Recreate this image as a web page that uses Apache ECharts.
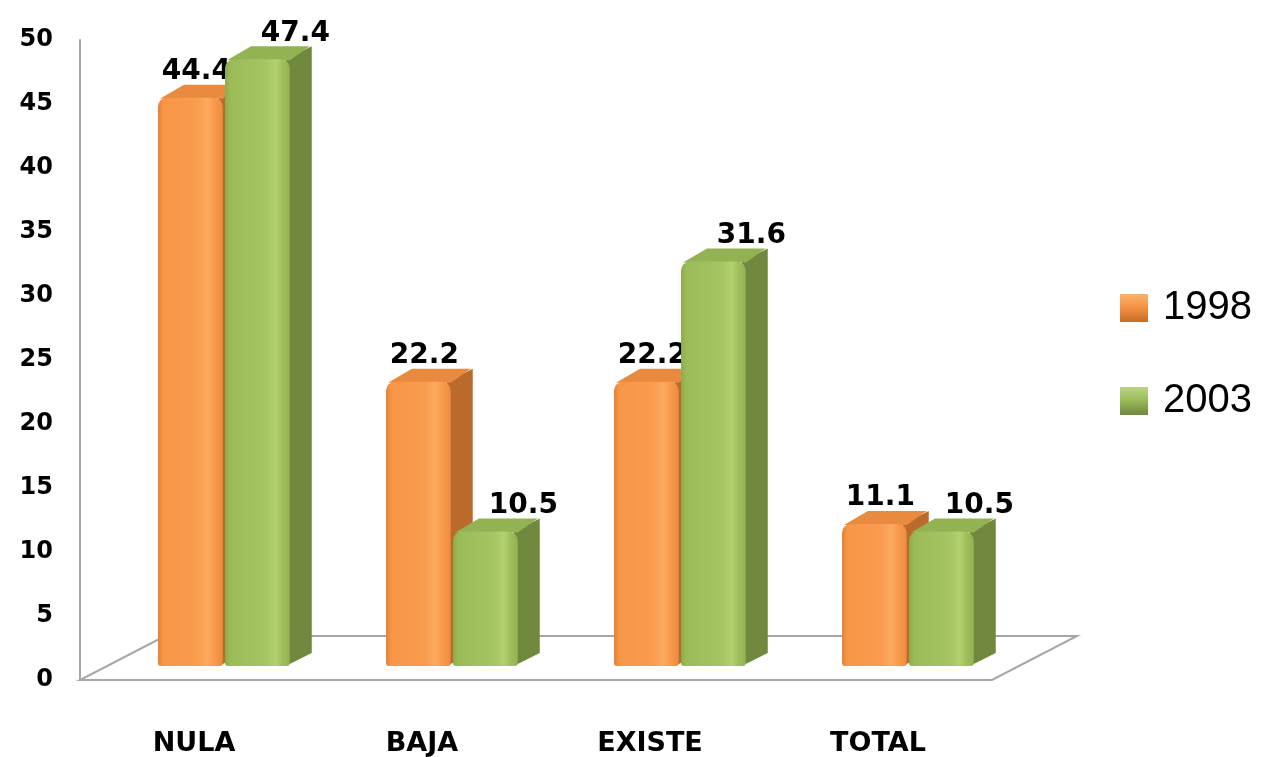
<!DOCTYPE html>
<html>
<head>
<meta charset="utf-8">
<script src="https://cdn.jsdelivr.net/npm/echarts@6/dist/echarts.min.js"></script>
<style>html,body{margin:0;padding:0;background:#fff;}#c{width:1272px;height:757px;}</style>
</head>
<body>
<div id="c"></div>
<script>
const categories = ['NULA', 'BAJA', 'EXISTE', 'TOTAL'];
const seriesNames = ['1998', '2003'];
const values1998 = [44.4, 22.2, 22.2, 11.1];
const values2003 = [47.4, 10.5, 31.6, 10.5];
const yMin = 0, yMax = 50, yStep = 5;

const chart = echarts.init(document.getElementById('c'), null, {renderer: 'canvas'});

const palettes = [
  { // orange
    front: new echarts.graphic.LinearGradient(0, 0, 1, 0, [
      {offset: 0, color: '#E3813A'}, {offset: 0.08, color: '#F79646'},
      {offset: 0.62, color: '#F99C4F'}, {offset: 0.76, color: '#FCAA60'},
      {offset: 0.9, color: '#F79646'}, {offset: 1, color: '#EC8C40'}]),
    side: '#BA6B2B', top: '#E88A3F',
    legend: new echarts.graphic.LinearGradient(0, 0, 0, 1, [
      {offset: 0, color: '#FBB26C'}, {offset: 0.5, color: '#F39040'}, {offset: 1, color: '#C66C27'}])
  },
  { // green
    front: new echarts.graphic.LinearGradient(0, 0, 1, 0, [
      {offset: 0, color: '#8CAB4C'}, {offset: 0.08, color: '#9BBB59'},
      {offset: 0.64, color: '#A5C462'}, {offset: 0.78, color: '#B4D171'},
      {offset: 0.9, color: '#9EBD5A'}, {offset: 1, color: '#93B152'}]),
    side: '#71893F', top: '#92B254',
    legend: new echarts.graphic.LinearGradient(0, 0, 0, 1, [
      {offset: 0, color: '#BCD584'}, {offset: 0.5, color: '#98B857'}, {offset: 1, color: '#6E873E'}])
  }
];

const DX = 22, DY = -13;      // bar depth
const SHIFT_Y = -14;          // bars stand behind the front floor edge
const offsets = [-0.158, 0.136];
const labelShift = [6, 38];
const BAR_FRAC = 0.284;

function makeBarRender(s) {
  return function (params, api) {
    const idx = api.value(0), val = api.value(1);
    const base = api.coord([idx, 0]);
    const top = api.coord([idx, val]);
    const band = api.size([1, 0])[0];
    const bw = band * BAR_FRAC;
    const x0 = base[0] + band * offsets[s];
    const x1 = x0 + bw;
    const yb = base[1] + SHIFT_Y;
    const yt = top[1] + SHIFT_Y;
    const p = palettes[s];
    return {
      type: 'group',
      children: [
        {type: 'polygon', shape: {points: [[x1 - 4, yt], [x1 + DX, yt + DY], [x1 + DX, yb + DY], [x1 - 4, yb]]},
          style: {fill: p.side}},
        {type: 'polygon', shape: {points: [[x0 + 2, yt + 1], [x0 + DX + 4, yt + DY], [x1 + DX - 2, yt + DY], [x1, yt + 1]]},
          style: {fill: p.top}},
        {type: 'rect', shape: {x: x0, y: yt, width: bw, height: yb - yt, r: [9, 9, 3, 3]},
          style: {fill: p.front}},
        {type: 'text', z2: 10, style: {
          text: String(val), x: (x0 + x1) / 2 + labelShift[s], y: yt + DY + 1,
          align: 'center', verticalAlign: 'bottom',
          font: 'bold 28px "DejaVu Sans"', fill: '#000'}}
      ]
    };
  };
}

function floorRender(params, api) {
  const cs = params.coordSys;
  const xL = cs.x, xR = cs.x + cs.width, yF = cs.y + cs.height;
  const dx = 85, dy = -44;
  return {
    type: 'polygon',
    shape: {points: [[xL, yF], [xR, yF], [xR + dx, yF + dy], [xL + dx, yF + dy]]},
    style: {fill: 'none', stroke: '#A6A6A6', lineWidth: 2}
  };
}

const option = {
  backgroundColor: '#fff',
  animation: false,
  grid: {left: 80, right: 280, top: 40, bottom: 76, containLabel: false},
  legend: {
    orient: 'vertical', left: 1115, top: 283,
    itemWidth: 28, itemHeight: 28, itemGap: 53,
    icon: 'rect',
    data: seriesNames.map((n, i) => ({name: n, itemStyle: {color: palettes[i].legend}})),
    textStyle: {fontFamily: 'Liberation Sans', fontSize: 40, color: '#000', lineHeight: 40, padding: [0, 0, 0, 10]}
  },
  xAxis: {
    type: 'category', data: categories,
    axisLine: {show: false}, axisTick: {show: false},
    axisLabel: {fontFamily: 'DejaVu Sans', fontWeight: 'bold', fontSize: 27, color: '#000', margin: 50}
  },
  yAxis: {
    type: 'value', min: yMin, max: yMax, interval: yStep,
    splitLine: {show: false},
    axisLine: {show: true, lineStyle: {color: '#A6A6A6', width: 2}},
    axisTick: {show: false},
    axisLabel: {fontFamily: 'DejaVu Sans', fontWeight: 'bold', fontSize: 24, color: '#000', margin: 27}
  },
  series: [
    {type: 'custom', name: '__floor', silent: true, z: 1, data: [[0, 0]], renderItem: floorRender},
    {type: 'custom', name: seriesNames[0], z: 2, itemStyle: {color: '#F79646'},
      data: values1998.map((v, i) => [i, v]), encode: {x: 0, y: 1}, renderItem: makeBarRender(0)},
    {type: 'custom', name: seriesNames[1], z: 3, itemStyle: {color: '#9BBB59'},
      data: values2003.map((v, i) => [i, v]), encode: {x: 0, y: 1}, renderItem: makeBarRender(1)}
  ]
};
chart.setOption(option);
</script>
</body>
</html>
